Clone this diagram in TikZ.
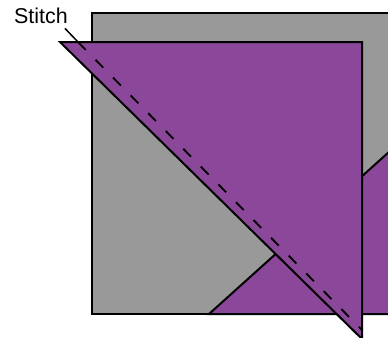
\documentclass[tikz,border=0pt]{standalone}
\usepackage{fontspec}
\setmainfont{Liberation Sans}
\usetikzlibrary{positioning, calc}

\begin{document}
\begin{tikzpicture}[
    x=1bp, y=-1bp,
    fabric/.style={draw=black, line width=2bp, line join=miter},
    stitchline/.style={draw=black, line width=1.8bp, dash pattern=on 11bp off 14bp},
    font=\fontsize{21.5}{25}\selectfont
]
\definecolor{greyfab}{RGB}{153,153,153}
\definecolor{purplefab}{RGB}{139,71,153}
\useasboundingbox (0,0) rectangle (388,338);
\clip (0,0) rectangle (388,338);
% Grey square underneath
\draw[fabric, line width=2.5bp, fill=greyfab] (92,13) rectangle (400,314);
% Folded purple piece behind the triangle
\filldraw[fabric, fill=purplefab] (209,314) -- (400,142) -- (400,314) -- cycle;
% Top purple triangle
\coordinate (tl) at (60,42);
\coordinate (tr) at (362,42);
\coordinate (tip) at (362,339);
\filldraw[fabric, fill=purplefab] (tl) -- (tr) -- (tip) -- cycle;
% Stitch line
\coordinate (sa) at (78,42);
\coordinate (sb) at (362,330);
\draw[stitchline] (sa) -- (sb);
% Label
\node[anchor=base west, inner sep=0pt] (stitch) at (14,23) {Stitch};
\coordinate (lead) at ($(stitch.south east)+(-3,5)$);
\draw[line width=1.5bp] (lead) -- (sa);
\end{tikzpicture}
\end{document}
